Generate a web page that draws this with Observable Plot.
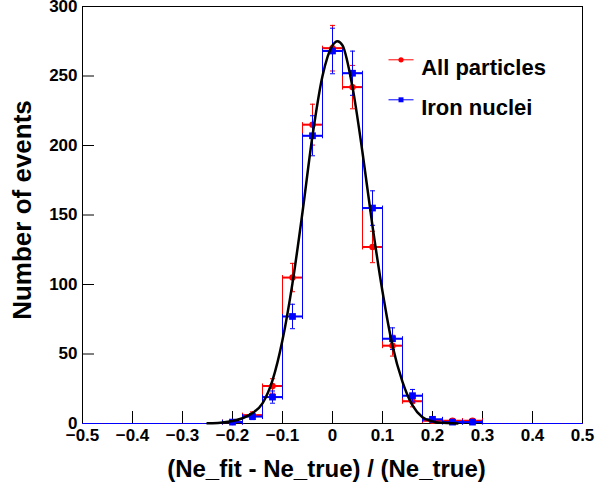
<!DOCTYPE html>
<html><head><meta charset="utf-8">
<script src="https://cdn.jsdelivr.net/npm/d3@7"></script>
<script src="https://cdn.jsdelivr.net/npm/@observablehq/plot@0.6"></script>
<style>
body{margin:0;background:#fff;}
#chart svg{display:block;}
</style></head>
<body><div id="chart"></div>
<script>
// ---- data ----
const binCenters = [-0.48,-0.44,-0.40,-0.36,-0.32,-0.28,-0.24,-0.20,-0.16,-0.12,-0.08,-0.04,0,0.04,0.08,0.12,0.16,0.20,0.24,0.28,0.32,0.36,0.40,0.44,0.48];
const binWidth = 0.04;
const allParticles = [0,0,0,0,0,0,0,1,6,27,105,215,270,242,127,56,16,2,2,2,0,0,0,0,0];
const allErrors    = [0,0,0,0,0,0,0,1,2.4,5.2,10.2,14.7,16.4,15.6,11.3,7.5,4,1.4,1.4,1.4,0,0,0,0,0];
const ironNuclei   = [0,0,0,0,0,0,0,1,5,19,77,207,268,252,155,61,20,3,1,1,0,0,0,0,0];
const ironErrors   = [0,0,0,0,0,0,0,1,2.2,4.4,8.8,14.4,16.4,15.9,12.4,7.8,4.5,1.7,1,1,0,0,0,0,0];
const fitX = [-0.25,-0.24,-0.22,-0.20,-0.18,-0.16,-0.14,-0.12,-0.10,-0.08,-0.06,-0.04,-0.02,0,0.01,0.02,0.04,0.06,0.08,0.10,0.12,0.14,0.16,0.18,0.20,0.22,0.24,0.25];
const fitY = [0.1,0.2,0.7,1.8,3.8,7.5,14.5,31,60,101,152,207,250,272,275,272,242,195,142,95,56,30,13,4.5,1.5,0.5,0.1,0.05];
const xTicks = [-0.5,-0.4,-0.3,-0.2,-0.1,0,0.1,0.2,0.3,0.4,0.5];
const xTickLabels = ["\u22120.5","\u22120.4","\u22120.3","\u22120.2","\u22120.1","0","0.1","0.2","0.3","0.4","0.5"];
const yTicks = [0,50,100,150,200,250,300];
const yTickLabels = ["0","50","100","150","200","250","300"];
const seriesNames = ["All particles","Iron nuclei"];
const xTitle = "(Ne_fit - Ne_true) / (Ne_true)";
const yTitle = "Number of events";

// ---- build tables ----
function rows(vals, errs) {
  return binCenters.map((c, i) => ({x: c, x1: c - binWidth / 2, x2: c + binWidth / 2, v: vals[i], e: errs[i]}));
}
function steps(vals) {
  const pts = binCenters.map((c, i) => ({x: c - binWidth / 2, v: vals[i]}));
  pts.push({x: binCenters[binCenters.length - 1] + binWidth / 2, v: vals[vals.length - 1]});
  return pts;
}
const redRows = rows(allParticles, allErrors).filter(d => d.v > 0);
const blueRows = rows(ironNuclei, ironErrors).filter(d => d.v > 0);
const fit = fitX.map((x, i) => ({x, y: fitY[i]}));
const xLab = xTicks.map((t, i) => ({t, s: xTickLabels[i]}));
const yLab = yTicks.map((t, i) => ({t, s: yTickLabels[i]}));

const hCap = {draw(ctx) { ctx.moveTo(-2.5, 0); ctx.lineTo(2.5, 0); }};
const vCap = {draw(ctx) { ctx.moveTo(0, -2.5); ctx.lineTo(0, 2.5); }};
const legLine = {draw(ctx) { ctx.moveTo(-12.5, 0); ctx.lineTo(12.5, 0); }};
const FONT = "'Liberation Sans', Arial, Helvetica, sans-serif";
const TICKFONT = 17;

function histMarks(vals, rws, color, symbol, r) {
  return [
    Plot.line(steps(vals), {x: "x", y: "v", curve: "step-after", stroke: color, strokeWidth: 1}),
    Plot.ruleY(rws, {y: "v", x1: "x1", x2: "x2", stroke: color, strokeWidth: 2}),
    Plot.dot(rws, {x: "x1", y: "v", symbol: vCap, stroke: color, fill: "none", strokeWidth: 1}),
    Plot.dot(rws, {x: "x2", y: "v", symbol: vCap, stroke: color, fill: "none", strokeWidth: 1}),
    Plot.ruleX(rws, {x: "x", y1: d => d.v - d.e, y2: d => d.v + d.e, stroke: color, strokeWidth: 1}),
    Plot.dot(rws, {x: "x", y: d => d.v + d.e, symbol: hCap, stroke: color, fill: "none", strokeWidth: 1}),
    Plot.dot(rws, {x: "x", y: d => d.v - d.e, symbol: hCap, stroke: color, fill: "none", strokeWidth: 1}),
    Plot.dot(rws, {x: "x", y: "v", symbol, r, fill: color, stroke: "none"})
  ];
}

const chart = Plot.plot({
  width: 595,
  height: 490,
  marginLeft: 82,
  marginRight: 13,
  marginTop: 6,
  marginBottom: 67,
  style: {fontFamily: FONT, background: "white"},
  x: {domain: [-0.5, 0.5], axis: null},
  y: {domain: [0, 300], axis: null},
  marks: [
    Plot.frame({stroke: "black", strokeWidth: 1}),
    Plot.ruleX(xTicks, {x: d => d, insetTop: 405, stroke: "black", strokeWidth: 1}),
    Plot.ruleY(yTicks, {y: d => d, insetRight: 488, stroke: "black", strokeWidth: 1}),
    ...histMarks(allParticles, redRows, "#ff0000", "circle", 3.2),
    ...histMarks(ironNuclei, blueRows, "#0000ff", "square", 3.8),
    Plot.line(fit, {x: "x", y: "y", curve: "monotone-x", stroke: "black", strokeWidth: 2.5}),
    // legend
    Plot.dot([0], {frameAnchor: "top-left", dx: 318.5, dy: 53.3, symbol: legLine, stroke: "#ff0000", fill: "none", strokeWidth: 1}),
    Plot.dot([0], {frameAnchor: "top-left", dx: 318.5, dy: 53.3, symbol: "circle", r: 2.6, fill: "#ff0000", stroke: "none"}),
    Plot.dot([0], {frameAnchor: "top-left", dx: 318.5, dy: 93.3, symbol: legLine, stroke: "#0000ff", fill: "none", strokeWidth: 1}),
    Plot.dot([0], {frameAnchor: "top-left", dx: 318.5, dy: 93.3, symbol: "square", r: 2.8, fill: "#0000ff", stroke: "none"}),
    Plot.text([seriesNames[0]], {frameAnchor: "top-left", dx: 338.7, dy: 53.3, text: d => d, textAnchor: "start", fontSize: 22, fontWeight: "bold", fontFamily: FONT, fill: "black"}),
    Plot.text([seriesNames[1]], {frameAnchor: "top-left", dx: 338.7, dy: 93.3, text: d => d, textAnchor: "start", fontSize: 22, fontWeight: "bold", fontFamily: FONT, fill: "black"}),
    // tick labels
    Plot.text(xLab, {x: "t", frameAnchor: "bottom", dy: 5, lineAnchor: "top", textAnchor: "middle", text: "s", fontSize: TICKFONT, fontWeight: "bold", fontFamily: FONT, fill: "black"}),
    Plot.text(yLab, {y: "t", frameAnchor: "left", dx: -5, textAnchor: "end", text: "s", fontSize: TICKFONT, fontWeight: "bold", fontFamily: FONT, fill: "black"}),
    // titles
    Plot.text([xTitle], {frameAnchor: "bottom", dx: -6, dy: 53, lineAnchor: "bottom", textAnchor: "middle", text: d => d, fontSize: 24, fontWeight: "bold", fontFamily: FONT, fill: "black"}),
    Plot.text([yTitle], {frameAnchor: "left", dx: -60, dy: -5, rotate: -90, textAnchor: "middle", text: d => d, fontSize: 26, fontWeight: "bold", fontFamily: FONT, fill: "black"})
  ]
});
document.getElementById("chart").appendChild(chart);
</script>
</body></html>
